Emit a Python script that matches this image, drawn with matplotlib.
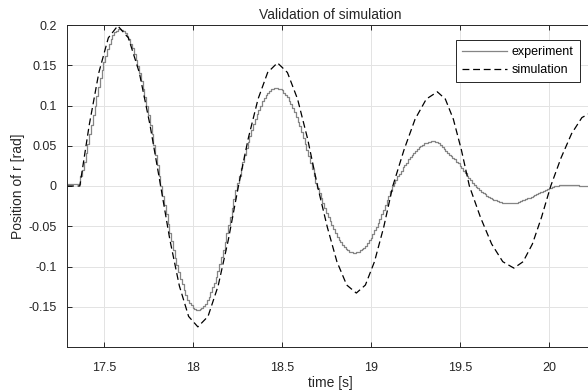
import numpy as np
import matplotlib
matplotlib.use("Agg")
import matplotlib.pyplot as plt

plt.rcParams['font.family'] = ['Liberation Sans', 'DejaVu Sans']
plt.rcParams['axes.unicode_minus'] = False

exp_t0 = 17.285
exp_dt = 0.01
exp_v = [
    # 17.285 ..
    0.002, 0.002, 0.002, 0.002, 0.002, 0.002, 0.002, 0.002,
    # 17.365 ..
    0.012, 0.020, 0.030, 0.041, 0.052, 0.064, 0.076, 0.088, 0.100, 0.112,
    0.123, 0.134, 0.144, 0.154, 0.162, 0.170, 0.177, 0.183, 0.187, 0.191,
    0.193, 0.195, 0.195, 0.194,
    # 17.605 ..
    0.192, 0.190, 0.186, 0.182, 0.177, 0.171, 0.164, 0.157, 0.149, 0.140,
    0.131, 0.121, 0.110, 0.099, 0.088, 0.076, 0.064, 0.051, 0.039, 0.026,
    0.013, 0.0,
    # 17.825 ..
    -0.012, -0.024, -0.035, -0.047, -0.058, -0.068, -0.079, -0.089, -0.098, -0.107,
    -0.115, -0.122, -0.129, -0.135, -0.141, -0.145, -0.148, -0.151, -0.153, -0.154,
    # 18.025 ..
    -0.154, -0.153, -0.152, -0.149, -0.146, -0.142, -0.138, -0.132, -0.126, -0.120,
    -0.113, -0.105, -0.097, -0.088, -0.079, -0.069, -0.059, -0.049, -0.038, -0.027,
    -0.016, -0.005,
    # 18.245 ..
    0.004, 0.013, 0.022, 0.030, 0.039, 0.047, 0.055, 0.062, 0.070, 0.077,
    0.083, 0.089, 0.095, 0.100, 0.105, 0.109, 0.113, 0.116, 0.118, 0.120,
    0.121, 0.122,
    # 18.465 ..
    0.122, 0.121, 0.120, 0.119, 0.116, 0.113, 0.110, 0.106, 0.102, 0.097,
    0.092, 0.086, 0.080, 0.074, 0.067, 0.060, 0.052, 0.045, 0.037, 0.029,
    0.021, 0.013, 0.004,
    # 18.695 ..
    -0.003, -0.009, -0.015, -0.021, -0.027, -0.033, -0.039, -0.044, -0.049, -0.054,
    -0.059, -0.063, -0.067, -0.070, -0.073, -0.076, -0.078, -0.080, -0.0815, -0.0825,
    -0.083,
    # 18.905 ..
    -0.083, -0.0825, -0.0815, -0.080, -0.0785, -0.0765, -0.074, -0.071, -0.0675, -0.064,
    -0.060, -0.055, -0.051, -0.046, -0.0405, -0.035, -0.030, -0.024, -0.018, -0.012,
    -0.006, 0.0,
    # 19.125 ..
    0.004, 0.008, 0.012, 0.015, 0.019, 0.023, 0.026, 0.029, 0.033, 0.036,
    0.0385, 0.041, 0.044, 0.046, 0.048, 0.050, 0.0515, 0.053, 0.054, 0.0547,
    0.0552, 0.0555, 0.0555, 0.055, 0.0545, 0.053,
    # 19.385 ..
    0.0515, 0.049, 0.0465, 0.044, 0.0415, 0.039, 0.037, 0.035, 0.033, 0.030,
    0.028, 0.025, 0.022, 0.019, 0.016, 0.013, 0.010, 0.007, 0.004, 0.0015,
    # 19.585 ..
    -0.001, -0.003, -0.005, -0.007, -0.009, -0.0105, -0.012, -0.0135, -0.015, -0.016,
    -0.017, -0.018, -0.019, -0.0195, -0.020, -0.0205, -0.021, -0.0213, -0.0215, -0.0217,
    # 19.785 ..
    -0.0217, -0.0215, -0.021, -0.0205, -0.020, -0.019, -0.018, -0.017, -0.016, -0.015,
    -0.0145, -0.0135, -0.0125, -0.011, -0.010, -0.009, -0.008, -0.007, -0.006, -0.005,
    -0.004, -0.003,
    # 20.005 ..
    -0.002, -0.001, -0.0005, 0.0, 0.0005, 0.001, 0.001, 0.0015, 0.0015, 0.0015,
    0.0015, 0.0015, 0.0015, 0.001, 0.001, 0.001, 0.0005, 0.0005, 0.0, 0.0,
    -0.0005, -0.0005, -0.001, -0.001, -0.001,
]

# simulation
sim_t = [
    17.29, 17.362, 17.415, 17.469, 17.522, 17.575,
    17.635, 17.696, 17.756, 17.816,
    17.868, 17.921, 17.973, 18.025,
    18.082, 18.139, 18.196, 18.253,
    18.308, 18.363, 18.417, 18.472,
    18.528, 18.585, 18.641, 18.697,
    18.752, 18.806, 18.861, 18.915,
    18.966, 19.017, 19.069, 19.12,
    19.183, 19.245, 19.308, 19.37,
    19.415, 19.46, 19.505, 19.55,
    19.6125, 19.675, 19.7375, 19.80,
    19.852, 19.904, 19.955, 20.007,
    20.065, 20.124, 20.182, 20.24,
]
sim_v = [
    0.0, 0.0, 0.076, 0.141, 0.184, 0.199,
    0.184, 0.141, 0.076, 0.0,
    -0.067, -0.124, -0.162, -0.175,
    -0.162, -0.124, -0.067, 0.0,
    0.059, 0.108, 0.141, 0.153,
    0.141, 0.108, 0.059, 0.0,
    -0.051, -0.094, -0.123, -0.133,
    -0.123, -0.094, -0.051, 0.0,
    0.045, 0.083, 0.108, 0.117,
    0.108, 0.083, 0.045, 0.0,
    -0.039, -0.072, -0.094, -0.102,
    -0.094, -0.072, -0.039, 0.0,
    0.035, 0.065, 0.085, 0.092,
]

xticks = [17.5, 18, 18.5, 19, 19.5, 20]
xticklabels = ['17.5', '18', '18.5', '19', '19.5', '20']
yticks = [-0.15, -0.1, -0.05, 0, 0.05, 0.1, 0.15, 0.2]
yticklabels = ['-0.15', '-0.1', '-0.05', '0', '0.05', '0.1', '0.15', '0.2']

exp_t = exp_t0 + exp_dt * np.arange(len(exp_v))

fig = plt.figure(figsize=(5.88, 3.92), dpi=100)
ax = fig.add_axes([67/588, 45/392, 527/588, 322/392])

ax.plot(exp_t, exp_v, color='#858585', lw=0.9, drawstyle='steps-post', label='experiment')
ax.plot(sim_t, sim_v, color='black', lw=0.9, dashes=(5.5, 3), label='simulation')

ax.set_xlim(17.29, 20.25)
ax.set_ylim(-0.2, 0.2)
ax.set_xticks(xticks)
ax.set_xticklabels(xticklabels)
ax.set_yticks(yticks)
ax.set_yticklabels(yticklabels)
ax.grid(True, color='#e3e3e3', lw=0.7)
ax.set_axisbelow(True)
for s in ax.spines.values():
    s.set_color('#262626')
    s.set_linewidth(0.7)
ax.tick_params(direction='in', length=3.5, width=0.7, colors='#262626',
               labelsize=9, top=True, right=True)
ax.tick_params(axis='y', pad=7.5)
ax.tick_params(axis='x', pad=11)

ax.set_title('Validation of simulation', fontsize=10, color='#262626', pad=4)
ax.set_xlabel('time [s]', fontsize=10, color='#262626', labelpad=1)
ax.set_ylabel('Position of r [rad]', fontsize=10, color='#262626', labelpad=2.5)

leg = ax.legend(loc='upper right', bbox_to_anchor=(580/588, 1 - 40/392),
                bbox_transform=fig.transFigure, borderaxespad=0,
                fontsize=9, fancybox=False, framealpha=1, handlelength=3.6,
                handletextpad=0.4, borderpad=0.5, labelspacing=0.45)
leg.get_frame().set_edgecolor('#262626')
leg.get_frame().set_linewidth(0.7)

fig.savefig('out.png', dpi=100)
